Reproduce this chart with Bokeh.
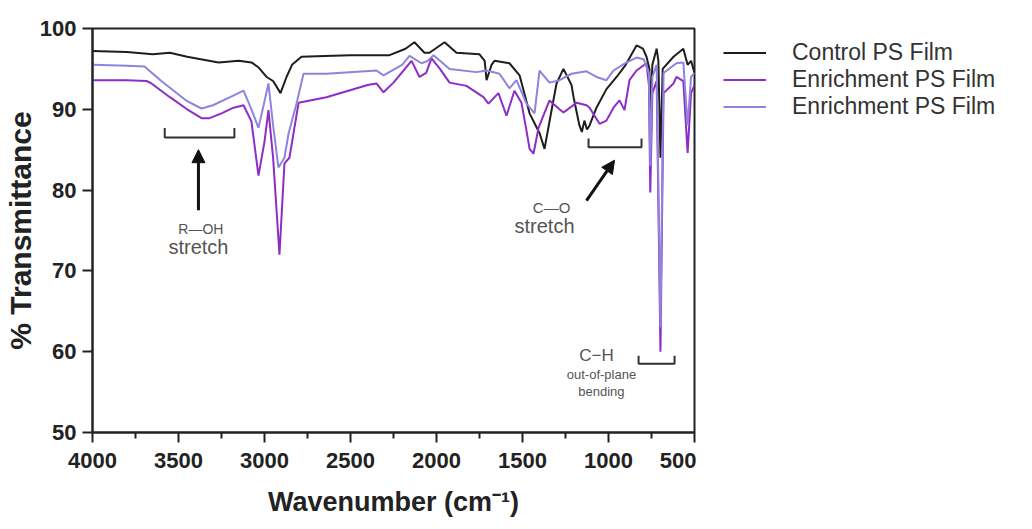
from bokeh.plotting import figure
from bokeh.layouts import row
from bokeh.models import (Range1d, Legend, LegendItem, FixedTicker, Arrow, NormalHead)
from bokeh.core.properties import value
from bokeh.embed import file_html
from bokeh.resources import INLINE

# ---------------- data ----------------
control_wn = [4000, 3800, 3650, 3550, 3450, 3267, 3150, 3076, 3035, 2988, 2950, 2907, 2872, 2840,
              2785, 2650, 2500, 2273, 2180, 2128, 2070, 2041, 1953, 1884, 1750, 1720, 1709, 1680,
              1663, 1576, 1517, 1459, 1400, 1372, 1330, 1302, 1262, 1215, 1203, 1169, 1155, 1140,
              1125, 1110, 1070, 1012, 953, 900, 837, 800, 779, 762, 757, 745, 720, 710, 698, 685,
              622, 565, 540, 520, 500]
control_t = [97.2, 97.1, 96.8, 97.0, 96.5, 95.8, 96.0, 95.8, 95.2, 94.0, 93.5, 92.0, 94.0, 95.5,
             96.5, 96.6, 96.7, 96.7, 97.5, 98.3, 97.0, 97.0, 98.3, 97.0, 96.8, 96.0, 93.6, 95.5,
             96.0, 95.7, 94.2, 89.5, 87.0, 85.1, 90.0, 93.2, 95.0, 93.0, 91.5, 88.0, 87.2, 88.6,
             87.5, 88.0, 90.2, 92.5, 94.0, 95.5, 97.9, 97.5, 96.5, 95.0, 89.0, 95.5, 97.5, 96.0,
             84.0, 95.0, 96.5, 97.5, 95.5, 96.0, 94.5]

enrich1_wn = [4000, 3800, 3686, 3657, 3550, 3450, 3366, 3320, 3250, 3180, 3122, 3076, 3035, 3000,
              2977, 2950, 2913, 2884, 2855, 2802, 2640, 2400, 2349, 2308, 2250, 2145, 2099, 2060,
              2029, 1980, 1924, 1826, 1727, 1698, 1640, 1593, 1547, 1506, 1477, 1459, 1436, 1407,
              1343, 1285, 1262, 1186, 1128, 1110, 1052, 1012, 971, 936, 907, 878, 837, 779, 765,
              757, 745, 720, 698, 680, 622, 605, 565, 540, 520, 500]
enrich1_t = [93.6, 93.6, 93.5, 93.2, 91.5, 90.0, 88.9, 88.9, 89.5, 90.2, 90.5, 88.5, 81.8, 86.0,
             89.9, 84.0, 72.0, 83.3, 84.0, 90.8, 91.5, 93.0, 93.2, 92.1, 93.3, 96.0, 94.0, 94.5,
             96.3, 95.0, 93.3, 92.9, 91.5, 90.7, 92.0, 89.2, 92.3, 90.8, 87.4, 85.1, 84.5, 87.7,
             91.1, 90.0, 89.6, 90.8, 90.5, 90.2, 88.2, 88.6, 90.2, 91.1, 89.9, 93.6, 94.8, 95.7, 93.0,
             79.7, 92.0, 93.5, 60.0, 92.0, 93.2, 94.0, 93.5, 84.6, 92.0, 93.0]

enrich2_wn = [4000, 3800, 3698, 3600, 3450, 3366, 3300, 3200, 3122, 3076, 3035, 3000, 2977, 2950,
              2919, 2884, 2860, 2814, 2773, 2640, 2349, 2308, 2200, 2157, 2087, 2050, 2017, 1924,
              1767, 1709, 1634, 1576, 1535, 1477, 1430, 1401, 1343, 1285, 1215, 1128, 1070, 1012,
              971, 895, 837, 796, 765, 757, 745, 720, 698, 680, 605, 565, 540, 520, 500]
enrich2_t = [95.5, 95.4, 95.3, 93.5, 91.0, 90.1, 90.5, 91.5, 92.3, 90.0, 87.7, 91.0, 93.2, 88.0,
             82.8, 84.0, 87.0, 90.7, 94.4, 94.4, 94.8, 94.2, 95.5, 96.6, 95.7, 96.0, 96.7, 95.0,
             94.6, 94.8, 94.4, 92.6, 93.6, 90.7, 89.5, 94.8, 93.3, 93.6, 94.4, 94.7, 94.0, 93.6,
             94.8, 95.8, 96.4, 96.2, 94.5, 83.0, 94.0, 95.5, 63.0, 94.5, 95.7, 95.8, 88.0, 94.0, 94.5]

series_names = ["Control PS Film", "Enrichment PS Film", "Enrichment PS Film"]
series_colors = ["#1e1e1e", "#8e2dc5", "#8c84dd"]
x_ticks = [4000, 3500, 3000, 2500, 2000, 1500, 1000, 500]
x_minor = [3750, 3250, 2750, 2250, 1750, 1250, 750]
y_ticks = [50, 60, 70, 80, 90, 100]

FONT = "Liberation Sans"

p = figure(frame_width=602, frame_height=404, output_backend="svg", toolbar_location=None,
           x_range=Range1d(4000, 500), y_range=Range1d(50, 100),
           min_border_left=91, min_border_right=2, min_border_top=28, min_border_bottom=89)
p.grid.visible = False
p.background_fill_color = "white"
p.border_fill_color = "white"
p.outline_line_color = "#222222"
p.outline_line_width = 2

for ax in (p.xaxis[0], p.yaxis[0]):
    ax.axis_line_width = 2
    ax.axis_line_color = "#222222"
    ax.major_tick_line_width = 2
    ax.major_tick_line_color = "#222222"
    ax.minor_tick_line_width = 2
    ax.minor_tick_line_color = "#222222"
    ax.major_tick_in = 0
    ax.major_tick_out = 10
    ax.minor_tick_in = 0
    ax.minor_tick_out = 6
    ax.major_label_text_font = FONT
    ax.major_label_text_font_style = "bold"
    ax.major_label_text_font_size = "22px"
    ax.major_label_text_color = "#222222"
    ax.axis_label_text_font = FONT
    ax.axis_label_text_font_style = "bold"
    ax.axis_label_text_color = "#222222"
p.xaxis.axis_label_text_font_size = "27px"
p.yaxis.axis_label_text_font_size = "30px"

p.xaxis.ticker = FixedTicker(ticks=x_ticks, minor_ticks=x_minor)
p.yaxis.ticker = FixedTicker(ticks=y_ticks, minor_ticks=[])
p.xaxis.axis_label = "Wavenumber (cm⁻¹)"
p.yaxis.axis_label = "% Transmittance"
p.xaxis.major_label_standoff = 10
p.yaxis.major_label_standoff = 6
p.xaxis.axis_label_standoff = 16
p.yaxis.axis_label_standoff = 0

r0 = p.line(control_wn, control_t, line_color=series_colors[0], line_width=2)
r1 = p.line(enrich1_wn, enrich1_t, line_color=series_colors[1], line_width=2)
r2 = p.line(enrich2_wn, enrich2_t, line_color=series_colors[2], line_width=2)

GRAY = "#555555"
# R-OH bracket & arrow
p.multi_line(xs=[[3580, 3580, 3175, 3175]], ys=[[87.7, 86.5, 86.5, 87.7]], line_color="#333333", line_width=2)
p.add_layout(Arrow(end=NormalHead(size=13, fill_color="#111111", line_color="#111111"),
                   x_start=3384, y_start=77.5, x_end=3384, y_end=85.0, line_width=3, line_color="#111111"))
p.text(x=[3370], y=[75.2], text=["R—OH"], text_font=value(FONT), text_font_size="14px",
       text_color=GRAY, text_align="center", text_baseline="middle")
p.text(x=[3384], y=[72.9], text=["stretch"], text_font=value(FONT), text_font_size="20px",
       text_color=GRAY, text_align="center", text_baseline="middle")

# C-O bracket & arrow
p.multi_line(xs=[[1116, 1116, 808, 808]], ys=[[86.4, 85.3, 85.3, 86.4]], line_color="#333333", line_width=2)
p.add_layout(Arrow(end=NormalHead(size=13, fill_color="#111111", line_color="#111111"),
                   x_start=1128, y_start=78.7, x_end=965, y_end=83.7, line_width=3, line_color="#111111"))
p.text(x=[1331], y=[77.8], text=["C—O"], text_font=value(FONT), text_font_size="15px",
       text_color=GRAY, text_align="center", text_baseline="middle")
p.text(x=[1372], y=[75.5], text=["stretch"], text_font=value(FONT), text_font_size="20px",
       text_color=GRAY, text_align="center", text_baseline="middle")

# C-H bracket
p.multi_line(xs=[[825, 825, 616, 616]], ys=[[59.5, 58.5, 58.5, 59.5]], line_color="#333333", line_width=2)
p.text(x=[1070], y=[59.5], text=["C−H"], text_font=value(FONT), text_font_size="17px",
       text_color=GRAY, text_align="center", text_baseline="middle")
p.text(x=[1041], y=[57.2], text=["out-of-plane"], text_font=value(FONT), text_font_size="13px",
       text_color=GRAY, text_align="center", text_baseline="middle")
p.text(x=[1041], y=[55.1], text=["bending"], text_font=value(FONT), text_font_size="13px",
       text_color=GRAY, text_align="center", text_baseline="middle")

# ---------------- legend panel ----------------
p2 = figure(width=321, height=521, output_backend="svg", toolbar_location=None,
            x_range=Range1d(0, 1), y_range=Range1d(0, 1), min_border=0, min_border_left=16,
            x_axis_location=None, y_axis_location=None)
p2.grid.visible = False
p2.outline_line_color = None
p2.background_fill_color = "white"
p2.border_fill_color = "white"
# series drawn outside p2's visible range, only so the legend has its glyphs
lr = [p2.line(wn, t, line_color=c, line_width=2)
      for wn, t, c in zip([control_wn, enrich1_wn, enrich2_wn],
                          [control_t, enrich1_t, enrich2_t], series_colors)]

legend = Legend(items=[LegendItem(label=n, renderers=[r]) for n, r in zip(series_names, lr)],
                location="top_left")
legend.border_line_color = None
legend.background_fill_alpha = 0
legend.margin = 11
legend.padding = 0
legend.spacing = -5
legend.glyph_width = 43
legend.glyph_height = 23
legend.label_standoff = 26
legend.label_height = 23
legend.label_text_font = FONT
legend.label_text_font_size = "23px"
legend.label_text_color = "#333333"
p2.add_layout(legend, "center")

open("out.html", "w").write(file_html(row(p, p2), INLINE))
